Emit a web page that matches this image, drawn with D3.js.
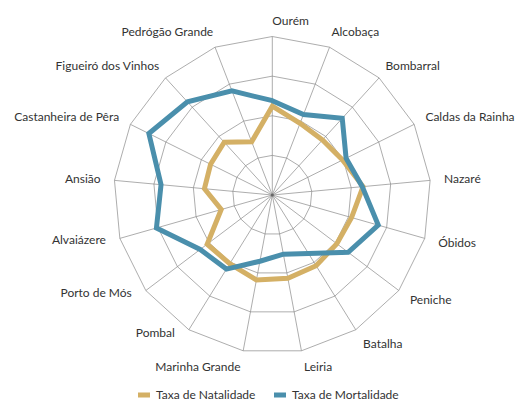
<!DOCTYPE html>
<html>
<head>
<meta charset="utf-8">
<script src="https://cdn.jsdelivr.net/npm/d3@7"></script>
<style>
	body { margin: 0; background: #fff; }
	svg { display: block; }
	.label { font-family: "Lato", sans-serif; font-size: 12px; fill: #333; }
	.grid { fill: none; stroke: #8a8a8a; stroke-width: 0.7; }
	.serie { fill: none; stroke-width: 5; stroke-linejoin: miter; }
</style>
</head>
<body>
<div id="chart"></div>
<script>
var concelhos = ["Ourém", "Alcobaça", "Bombarral", "Caldas da Rainha", "Nazaré", "Óbidos", "Peniche", "Batalha", "Leiria",
				 "Marinha Grande", "Pombal", "Porto de Mós", "Alvaiázere", "Ansião", "Castanheira de Pêra", "Figueiró dos Vinhos", "Pedrógão Grande"];

var natalidade  = [11.2, 9.7, 9.4, 9.9, 11.5, 10.4, 10.2, 10.5, 10.7, 10.9, 10.2, 10.3, 6.7, 8.6, 8.7, 9.0, 7.2];
var mortalidade = [11.9, 10.9, 13.1, 10.4, 11.4, 13.9, 12.0, 8.7, 7.6, 8.5, 11.0, 11.4, 15.2, 14.1, 17.4, 15.9, 14.1];

var niveis = [5, 10, 15, 20];

var series = ["Taxa de Natalidade", "Taxa de Mortalidade"];
var cores = ["#d4b065", "#4a8fac"];

var W = 520, H = 402;
var cx = 272.3, cy = 195, R = 158.5;

var svg = d3.select("#chart").append("svg").attr("width", W).attr("height", H);

var r = d3.scaleLinear().domain([0, 20]).range([0, R]);
var angle = d3.scalePoint().domain(d3.range(concelhos.length + 1)).range([0, 2 * Math.PI]);

function ponto(i, v) {
	var a = angle(i);
	return [cx + r(v) * Math.sin(a), cy - r(v) * Math.cos(a)];
}

// offset of a label from its outer vertex
function desvio(i) {
	var s = Math.sin(angle(i)), c = Math.cos(angle(i));

	if (c >= 0) return [14 * s * Math.abs(s), -16 * c];
	
	if (s < -0.3) return [-14, -4 * c];
	
	return [14 * s, -16 * c];
}

var g = svg.append("g");

// rings
g.selectAll(".ring")
 .data(niveis)
 .enter().append("path")
 .attr("class", "grid ring")
 .attr("d", function(n) {
	return d3.line()(concelhos.map(function(c, i) { return ponto(i, n); })) + "Z";
 });

// spokes
g.selectAll(".spoke")
 .data(concelhos)
 .enter().append("line")
 .attr("class", "grid spoke")
 .attr("x1", cx).attr("y1", cy)
 .attr("x2", function(d, i) { return ponto(i, 20)[0]; })
 .attr("y2", function(d, i) { return ponto(i, 20)[1]; });

g.append("circle").attr("cx", cx).attr("cy", cy).attr("r", 1.5).attr("fill", "#666");

// series, mortality drawn on top
[natalidade, mortalidade].forEach(function(valores, k) {
	g.append("path")
	 .attr("class", "serie")
	 .attr("stroke", cores[k])
	 .attr("d", d3.line()(valores.map(function(v, i) { return ponto(i, v); })) + "Z");
});

// labels
g.selectAll(".label")
 .data(concelhos)
 .enter().append("text")
 .attr("class", "label")
 .attr("x", function(d, i) { return ponto(i, 20)[0] + desvio(i)[0]; })
 .attr("y", function(d, i) { return ponto(i, 20)[1] + desvio(i)[1]; })
 .attr("dy", "0.35em")
 .attr("text-anchor", function(d, i) { return Math.sin(angle(i)) > -0.01 ? "start" : "end"; })
 .text(function(d) { return d; });

// legend
var legenda = svg.append("g").attr("transform", "translate(138,395)");

var item = legenda.selectAll(".item")
				  .data(series)
				  .enter().append("g")
				  .attr("class", "item")
				  .attr("transform", function(d, i) { return "translate(" + (i * 136) + ",0)"; });

item.append("rect")
	.attr("x", 0).attr("y", -2.5)
	.attr("width", 12).attr("height", 5)
	.attr("fill", function(d, i) { return cores[i]; });

item.append("text")
	.attr("class", "label")
	.attr("x", 18)
	.attr("dy", "0.35em")
	.text(function(d) { return d; });
</script>
</body>
</html>
